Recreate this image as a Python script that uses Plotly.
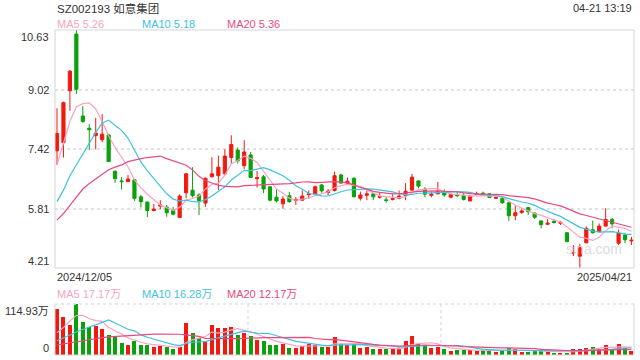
import numpy as np
import pandas as pd
import plotly.graph_objects as go

# ---------------- data ----------------
title_text = "SZ002193 如意集团"
time_text = "04-21 13:19"
start_date = "2024/12/05"
end_date = "2025/04/21"

open_ = [7.37, 7.59, 8.99, 10.52, 8.31, 7.98, 7.78, 7.67, 7.80, 6.82,
         6.56, 6.54, 6.59, 6.13, 5.99, 5.76, 5.88, 5.85, 5.77, 5.57,
         6.24, 6.31, 6.18, 5.96, 6.67, 6.70, 6.75, 7.19, 7.39, 6.97,
         7.26, 6.62, 6.67, 6.40, 6.12, 5.94, 6.16, 6.03, 6.04, 6.19,
         6.21, 6.45, 6.25, 6.30, 6.72, 6.50, 6.63, 6.09, 6.17, 6.21,
         6.12, 6.05, 6.06, 6.09, 6.16, 6.31, 6.56, 6.34, 6.17, 6.21,
         6.27, 6.12, 6.19, 6.17, 6.02, 6.20, 6.23, 6.21, 6.09, 6.09,
         5.97, 5.62, 5.71, 5.84, 5.69, 5.48, 5.39, 5.47, 5.42, 5.16,
         4.61, 4.53, 4.89, 5.24, 5.19, 5.34, 5.52, 4.88, 5.10, 4.94]
high = [8.52, 8.70, 9.55, 10.63, 8.58, 8.09, 8.26, 8.36, 7.83, 6.84,
        6.66, 6.72, 6.61, 6.18, 6.00, 5.94, 6.04, 5.91, 5.86, 6.20,
        6.78, 6.93, 6.23, 6.65, 7.20, 7.24, 7.41, 7.79, 7.46, 7.66,
        7.34, 6.83, 6.72, 6.41, 6.34, 6.15, 6.26, 6.12, 6.30, 6.30,
        6.44, 6.48, 6.34, 6.81, 6.75, 6.65, 6.66, 6.27, 6.30, 6.22,
        6.24, 6.13, 6.20, 6.30, 6.50, 6.75, 6.57, 6.39, 6.27, 6.53,
        6.33, 6.23, 6.27, 6.23, 6.18, 6.27, 6.27, 6.22, 6.16, 6.13,
        6.00, 5.89, 5.82, 5.86, 5.71, 5.50, 5.53, 5.52, 5.48, 5.17,
        4.83, 4.86, 5.33, 5.49, 5.41, 5.82, 5.56, 5.25, 5.16, 5.05]
low = [6.99, 7.19, 8.45, 8.90, 8.13, 7.39, 7.41, 7.60, 7.07, 6.51,
       6.33, 6.53, 6.02, 5.84, 5.58, 5.74, 5.79, 5.59, 5.63, 5.56,
       6.09, 6.11, 5.64, 5.86, 6.65, 6.31, 6.72, 7.03, 7.03, 6.88,
       6.64, 6.38, 6.23, 6.01, 5.98, 5.81, 5.97, 5.91, 6.03, 6.08,
       6.20, 6.24, 6.17, 6.27, 6.48, 6.45, 6.12, 6.03, 6.04, 6.04,
       6.08, 5.97, 6.03, 6.06, 6.04, 6.30, 6.36, 6.12, 6.12, 6.20,
       6.13, 6.09, 6.13, 6.03, 6.01, 6.18, 6.18, 6.10, 6.07, 5.94,
       5.48, 5.50, 5.67, 5.64, 5.53, 5.28, 5.37, 5.41, 5.37, 4.91,
       4.53, 4.21, 4.88, 5.14, 5.18, 5.33, 5.28, 4.83, 4.88, 4.83]
close = [7.84, 8.67, 9.52, 9.03, 8.16, 7.94, 7.85, 7.82, 7.08, 6.62,
         6.54, 6.61, 6.09, 6.00, 5.76, 5.80, 5.91, 5.70, 5.66, 6.15,
         6.75, 6.16, 6.03, 6.63, 6.75, 6.93, 7.23, 7.54, 7.10, 7.34,
         6.65, 6.65, 6.34, 6.04, 6.02, 6.07, 6.00, 6.06, 6.15, 6.21,
         6.40, 6.29, 6.28, 6.70, 6.50, 6.55, 6.13, 6.18, 6.21, 6.13,
         6.13, 6.03, 6.08, 6.15, 6.28, 6.66, 6.42, 6.20, 6.20, 6.27,
         6.18, 6.19, 6.16, 6.06, 6.15, 6.22, 6.21, 6.11, 6.11, 5.97,
         5.62, 5.70, 5.75, 5.73, 5.58, 5.38, 5.42, 5.44, 5.44, 4.92,
         4.63, 4.78, 5.28, 5.16, 5.34, 5.52, 5.40, 5.15, 4.97, 4.96]
volume_wan = [103.7, 86.4, 67.6, 114.93, 75.1, 63.9, 66.1, 58.6, 45.1, 39.8,
              26.3, 22.5, 32.3, 22.5, 22.5, 18.8, 20.3, 17.3, 13.5, 17.3,
              72.1, 50.3, 37.6, 30.8, 67.6, 60.8, 60.8, 63.1, 45.1, 49.6,
              42.8, 33.8, 32.3, 22.5, 22.5, 24.8, 16.5, 16.5, 20.3, 24.0,
              22.5, 18.8, 18.8, 41.3, 24.8, 22.5, 24.0, 16.5, 18.8, 13.5,
              14.3, 14.3, 12.8, 15.0, 32.3, 42.8, 25.5, 21.0, 16.5, 18.8,
              13.5, 9.8, 11.3, 11.3, 11.3, 9.8, 11.3, 9.0, 7.5, 9.8,
              16.5, 13.5, 7.5, 7.5, 9.0, 9.0, 7.5, 5.3, 5.3, 5.3,
              13.5, 13.5, 16.5, 18.8, 13.5, 22.5, 13.5, 24.8, 16.5, 9.8]

# moving-average values before a full window exists
ma5_head = [6.99, 7.55, 8.16, 8.56]
ma10_head = [6.00, 6.31, 6.70, 7.00, 7.30, 7.57, 7.87, 8.12, 8.20]
ma20_head = [5.50, 5.68, 5.90, 6.11, 6.34, 6.49, 6.62, 6.73, 6.86, 6.93,
             6.99, 7.08, 7.13, 7.16, 7.19, 7.21, 7.23, 7.16, 7.10]
vma5_head = [50, 62, 77, 89]
vma10_head = [32, 38, 45, 52, 58, 63, 68, 73, 79]
vma20_head = [22.5, 25, 27, 30, 33, 35, 37, 39, 41, 42,
              43, 44, 45, 46, 46, 47, 47, 47, 47]

price_ticks = [10.63, 9.02, 7.42, 5.81, 4.21]
volume_ticks = [114.93, 0]
price_ma_labels = ["MA5 5.26", "MA10 5.18", "MA20 5.36"]
volume_ma_labels = ["MA5 17.17万", "MA10 16.28万", "MA20 12.17万"]

# ---------------- styles ----------------
RED = "#f2190f"
GREEN = "#0aa10a"
MA_COLORS = ["#f9a3c1", "#3fc2e2", "#e94a7f"]
TEXT = "#333333"
BORDER = "#d6d6d6"
GRID = "#e2e2e2"
FONT = "Liberation Sans, Arial, Noto Sans CJK SC"

W, H = 640, 360
PL, PR, PT, PB = 55, 634, 30, 268
VT, VB = 304, 355


def px(x):
    return x / W


def py(y):
    return 1 - y / H


n = len(close)
idx = list(range(n))


def rolling(values, window, head):
    arr = pd.Series(values, dtype=float).rolling(window).mean().to_numpy()
    arr[:len(head)] = head
    return arr


ma5 = rolling(close, 5, ma5_head)
ma10 = rolling(close, 10, ma10_head)
ma20 = rolling(close, 20, ma20_head)
vma5 = rolling(volume_wan, 5, vma5_head)
vma10 = rolling(volume_wan, 10, vma10_head)
vma20 = rolling(volume_wan, 20, vma20_head)

fig = go.Figure()

fig.add_trace(go.Candlestick(
    x=idx, open=open_, high=high, low=low, close=close,
    increasing=dict(line=dict(color=RED, width=1), fillcolor=RED),
    decreasing=dict(line=dict(color=GREEN, width=1), fillcolor=GREEN),
    whiskerwidth=0, xaxis="x", yaxis="y", hoverinfo="skip"))

for ser, col in zip([ma5, ma10, ma20], MA_COLORS):
    fig.add_trace(go.Scatter(x=idx, y=ser, mode="lines",
                             line=dict(color=col, width=1.2),
                             xaxis="x", yaxis="y", hoverinfo="skip"))

vol_colors = [RED if c >= o else GREEN for o, c in zip(open_, close)]
fig.add_trace(go.Bar(x=idx, y=volume_wan, marker=dict(color=vol_colors, line=dict(width=0)),
                     width=0.62, xaxis="x2", yaxis="y2", hoverinfo="skip"))
for ser, col in zip([vma5, vma10, vma20], MA_COLORS):
    fig.add_trace(go.Scatter(x=idx, y=ser, mode="lines",
                             line=dict(color=col, width=1.2),
                             xaxis="x2", yaxis="y2", hoverinfo="skip"))

xr = [-0.31, n - 1 + 0.39]
fig.update_layout(
    width=W, height=H, margin=dict(l=0, r=0, t=0, b=0),
    paper_bgcolor="white", plot_bgcolor="white", showlegend=False,
    font=dict(family=FONT, size=11, color=TEXT),
    xaxis=dict(domain=[px(PL), px(PR)], range=xr, visible=False,
               rangeslider=dict(visible=False), anchor="y"),
    xaxis2=dict(domain=[px(PL), px(PR)], range=xr, visible=False, anchor="y2"),
    yaxis=dict(domain=[py(PB), py(PT)], range=[price_ticks[-1], price_ticks[0]],
               tickvals=price_ticks[1:-1], showticklabels=False, showgrid=True,
               gridcolor=GRID, griddash="dot", gridwidth=1.5, zeroline=False,
               showline=False, anchor="x"),
    yaxis2=dict(domain=[py(VB), py(VT)], range=[0, volume_ticks[0]],
                showticklabels=False, showgrid=False, zeroline=False,
                showline=False, anchor="x2"),
    bargap=0,
)

shapes = []
# price panel frame
shapes.append(dict(type="rect", xref="paper", yref="paper",
                   x0=px(PL), x1=px(PR), y0=py(PB), y1=py(PT),
                   line=dict(color=BORDER, width=1)))
# volume panel frame
for (x0, y0, x1, y1) in [(PL, VT, PL, VB), (PR, VT, PR, VB), (PL, VB, PR, VB)]:
    shapes.append(dict(type="line", xref="paper", yref="paper",
                       x0=px(x0), x1=px(x1), y0=py(y0), y1=py(y1),
                       line=dict(color=BORDER, width=1)))
shapes.append(dict(type="line", xref="paper", yref="paper",
                   x0=px(PL), x1=px(PR), y0=py(VT), y1=py(VT),
                   line=dict(color=GRID, width=1.5, dash="dot")))
for k in (1, 2):
    xv = PL + (PR - PL) * k / 3
    shapes.append(dict(type="line", xref="paper", yref="paper",
                       x0=px(xv), x1=px(xv), y0=py(VT), y1=py(VB),
                       line=dict(color=GRID, width=1.5, dash="dot")))
fig.update_layout(shapes=shapes)

ann = []


def text(x, y, s, xa="left", ya="middle", color=TEXT, size=11, family=FONT):
    ann.append(dict(x=px(x), y=py(y), xref="paper", yref="paper", text=s,
                    showarrow=False, xanchor=xa, yanchor=ya,
                    font=dict(color=color, size=size, family=family)))


text(PL, 8, title_text, size=11.5, family="Liberation Sans, Noto Sans CJK SC")
text(PR, 8, time_text, xa="right")
for s, xpos, col in zip(price_ma_labels, [PL, 140, 225], MA_COLORS):
    text(xpos, 24, s, color=col)
for s, xpos, col in zip(volume_ma_labels, [PL, 140, 225], MA_COLORS):
    text(xpos, 294, s, color=col, family="Liberation Sans, Noto Sans CJK SC")

# price tick labels
pmin, pmax = price_ticks[-1], price_ticks[0]
for v in price_ticks:
    ypix = PB - (v - pmin) / (pmax - pmin) * (PB - PT)
    if v == pmax:
        text(51, ypix - 1, f"{v:.2f}", xa="right", ya="top")
    elif v == pmin:
        text(51, ypix + 1, f"{v:.2f}", xa="right", ya="bottom")
    else:
        text(51, ypix, f"{v:.2f}", xa="right")
# volume tick labels
text(51, VT - 1, f"{volume_ticks[0]:.2f}万", xa="right", ya="top",
     family="Liberation Sans, Noto Sans CJK SC")
text(51, VB + 1, f"{volume_ticks[1]}", xa="right", ya="bottom")

text(PL, 277, start_date)
text(PR, 277, end_date, xa="right")
text(624, 249, "sina.com", xa="right", color="#dcdcdc", size=14)

fig.update_layout(annotations=ann)
fig.write_html("out.html")
